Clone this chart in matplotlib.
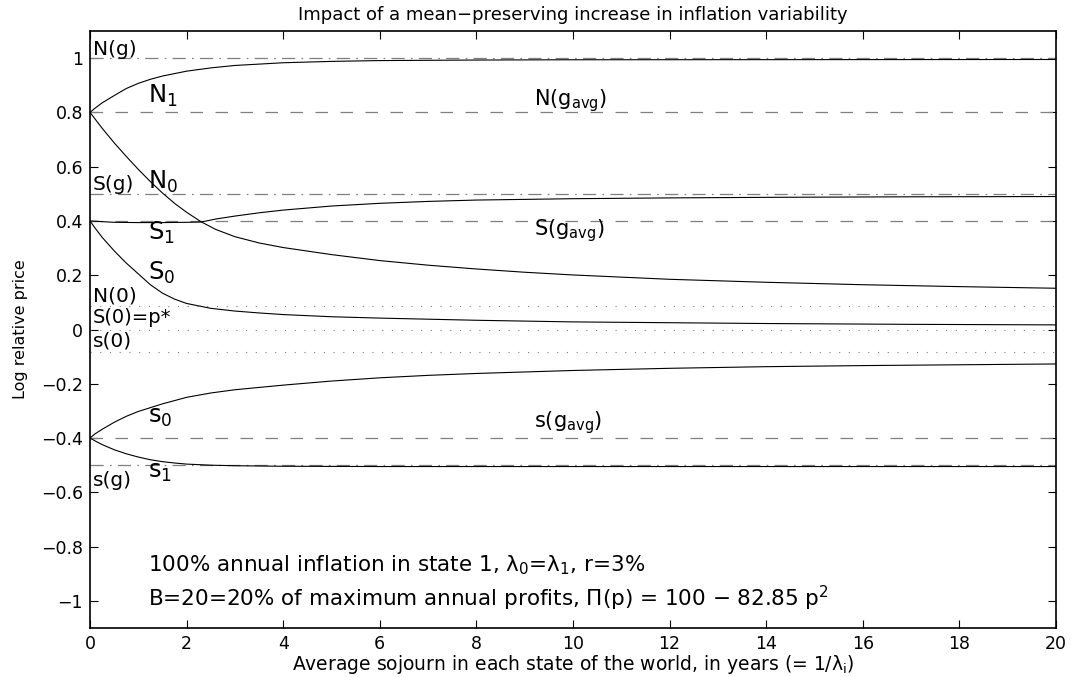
import numpy as np
import matplotlib
matplotlib.use("Agg")
import matplotlib.pyplot as plt

plt.rcParams['font.family'] = ['DejaVu Sans']
plt.rcParams['mathtext.fontset'] = 'dejavusans'
plt.rcParams['mathtext.default'] = 'regular'
plt.rcParams['lines.scale_dashes'] = False

# ---------------- data ----------------
title = "Impact of a mean\u2212preserving increase in inflation variability"
xlabel = "Average sojourn in each state of the world, in years (= 1/$\\lambda_\\mathrm{i}$)"
ylabel = "Log relative price"

x_ticks = [0, 2, 4, 6, 8, 10, 12, 14, 16, 18, 20]
y_ticks = [-1, -0.8, -0.6, -0.4, -0.2, 0, 0.2, 0.4, 0.6, 0.8, 1]
y_tick_labels = ["\u22121", "\u22120.8", "\u22120.6", "\u22120.4", "\u22120.2", "0",
                 "0.2", "0.4", "0.6", "0.8", "1"]

# horizontal reference levels
dashdot_levels = [1.0, 0.5, -0.5]          # N(g), S(g), s(g)
dashed_levels = [0.8, 0.4, -0.4]           # N(gavg), S(gavg), s(gavg)
dotted_levels = [0.087, 0.0, -0.082]       # N(0), S(0)=p*, s(0)

# curves (x = average sojourn in years)
N1_x = [0, 0.1, 0.25, 0.5, 0.75, 1, 1.25, 1.5, 2, 2.5, 3, 4, 5, 6, 8, 10, 20]
N1_y = [0.8, 0.815, 0.835, 0.862, 0.888, 0.907, 0.922, 0.934, 0.952, 0.964, 0.973,
        0.983, 0.988, 0.991, 0.993, 0.994, 0.995]

N0_x = [0, 0.25, 0.5, 0.75, 1, 1.25, 1.5, 1.75, 2, 2.3, 2.6, 3, 3.5, 4, 5, 6, 7, 8,
        9, 10, 12, 14, 16, 18, 20]
N0_y = [0.8, 0.742, 0.688, 0.638, 0.59, 0.545, 0.503, 0.465, 0.432, 0.397, 0.369,
        0.342, 0.319, 0.302, 0.276, 0.254, 0.237, 0.223, 0.211, 0.201, 0.185, 0.174,
        0.165, 0.158, 0.152]

S1_x = [0, 0.5, 1, 1.5, 2, 2.3, 2.6, 3, 3.5, 4, 5, 6, 7, 8, 10, 12, 14, 17, 20]
S1_y = [0.4, 0.395, 0.394, 0.394, 0.395, 0.396, 0.407, 0.418, 0.43, 0.44, 0.455,
        0.465, 0.472, 0.477, 0.482, 0.485, 0.487, 0.489, 0.49]

S0_x = [0, 0.1, 0.25, 0.5, 0.75, 1, 1.25, 1.5, 1.75, 2, 2.5, 3, 3.5, 4, 5, 6, 8,
        10, 12, 14, 17, 20]
S0_y = [0.4, 0.375, 0.34, 0.29, 0.245, 0.205, 0.165, 0.134, 0.112, 0.096, 0.078,
        0.068, 0.061, 0.055, 0.047, 0.042, 0.034, 0.028, 0.025, 0.022, 0.019, 0.017]

s0_x = [0, 0.1, 0.25, 0.5, 0.75, 1, 1.5, 2, 2.5, 3, 4, 5, 6, 7, 8, 10, 12, 14, 16,
        18, 20]
s0_y = [-0.4, -0.385, -0.368, -0.342, -0.32, -0.302, -0.274, -0.25, -0.234, -0.222,
        -0.205, -0.19, -0.178, -0.169, -0.162, -0.151, -0.143, -0.137, -0.133,
        -0.13, -0.127]

s1_x = [0, 0.1, 0.25, 0.5, 0.75, 1, 1.25, 1.5, 1.75, 2, 2.5, 3, 4, 6, 20]
s1_y = [-0.4, -0.41, -0.424, -0.443, -0.458, -0.47, -0.48, -0.487, -0.492, -0.496,
        -0.5, -0.502, -0.504, -0.505, -0.505]

# labels: (text, x, baseline y, fontsize)
labels = [
    ("N(g)", 0.06, 1.013, 14.5),
    ("S(g)", 0.06, 0.513, 14.5),
    ("N(0)", 0.06, 0.104, 14.5),
    ("S(0)=p*", 0.06, 0.024, 14),
    ("s(0)", 0.06, -0.064, 14.5),
    ("s(g)", 0.06, -0.575, 14.5),
    ("N$_1$", 1.2, 0.836, 17.5),
    ("N$_0$", 1.2, 0.52, 17.5),
    ("S$_1$", 1.2, 0.33, 17.5),
    ("S$_0$", 1.2, 0.183, 17.5),
    ("s$_0$", 1.2, -0.344, 17.5),
    ("s$_1$", 1.2, -0.546, 17.5),
    ("N(g$_{\\mathrm{avg}}$)", 9.2, 0.825, 15),
    ("S(g$_{\\mathrm{avg}}$)", 9.2, 0.347, 15),
    ("s(g$_{\\mathrm{avg}}$)", 9.2, -0.362, 15),
    ("100% annual inflation in state 1, $\\lambda_0$=$\\lambda_1$, r=3%", 1.2, -0.89, 15.5),
    ("B=20=20% of maximum annual profits, $\\Pi$(p) = 100 \u2212 82.85 p$^2$", 1.2, -1.02, 15.5),
]

# ---------------- figure ----------------
W, H = 1072, 677
fig = plt.figure(figsize=(W / 100, H / 100), dpi=100)
ax = fig.add_axes([90 / W, (H - 628) / H, (1056 - 90) / W, (628 - 31) / H])

gray = '#7f7f7f'
for lv in dashdot_levels:
    ax.axhline(lv, color=gray, lw=0.9, dashes=(9.5, 4.5, 1.2, 4.5))
for lv in dashed_levels:
    ax.axhline(lv, color=gray, lw=0.9, dashes=(9.0, 9.0))
for lv in dotted_levels:
    ax.axhline(lv, color=gray, lw=0.8, dashes=(0.8, 6.2))

for xs, ys in [(N1_x, N1_y), (N0_x, N0_y), (S1_x, S1_y), (S0_x, S0_y),
               (s0_x, s0_y), (s1_x, s1_y)]:
    ax.plot(xs, ys, color='black', lw=0.8)

for txt, xx, yy, fs in labels:
    ax.text(xx, yy, txt, fontsize=fs, ha='left', va='baseline', color='black')

ax.set_xlim(0, 20)
ax.set_ylim(-1.1, 1.1)
ax.set_xticks(x_ticks)
ax.set_xticklabels([str(t) for t in x_ticks])
ax.set_yticks(y_ticks)
ax.set_yticklabels(y_tick_labels)
ax.tick_params(direction='in', length=6, width=0.8, top=True, right=True,
               labelsize=12.5, pad=5)
for sp in ax.spines.values():
    sp.set_linewidth(1.2)

ax.set_title(title, fontsize=13, pad=8)
ax.set_xlabel(xlabel, fontsize=13.5, labelpad=0)
ax.set_ylabel(ylabel, fontsize=11.5, labelpad=9)

fig.savefig("out.png", dpi=100)
